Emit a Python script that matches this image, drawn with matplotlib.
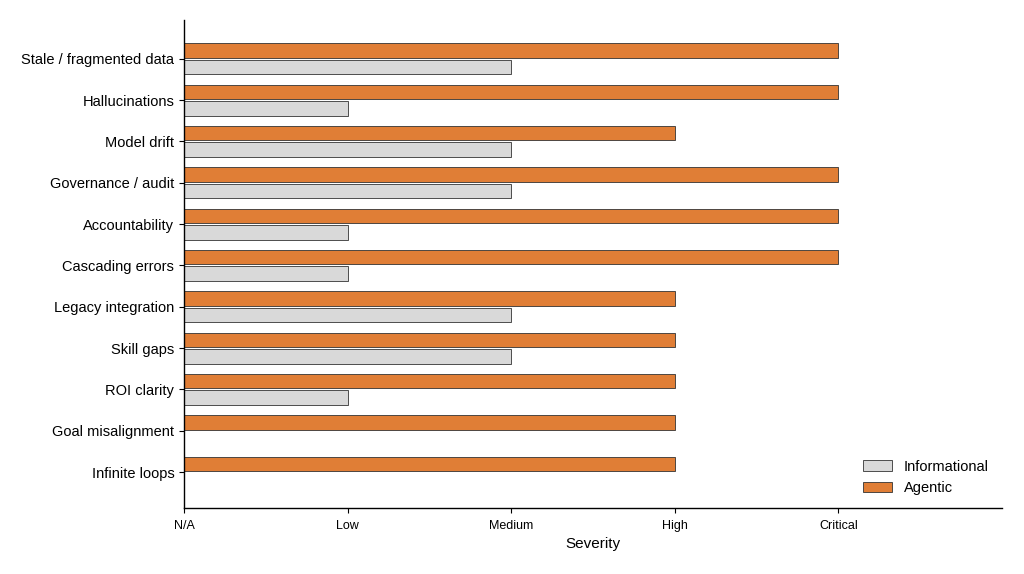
import matplotlib
matplotlib.use("Agg")
import matplotlib.pyplot as plt
import numpy as np

plt.rcParams['font.family'] = ['Liberation Sans', 'DejaVu Sans']

categories = ["Stale / fragmented data", "Hallucinations", "Model drift", "Governance / audit",
              "Accountability", "Cascading errors", "Legacy integration", "Skill gaps",
              "ROI clarity", "Goal misalignment", "Infinite loops"]
informational = [2, 1, 2, 2, 1, 1, 2, 2, 1, 0, 0]
agentic = [4, 4, 3, 4, 4, 4, 3, 3, 3, 3, 3]
tick_labels = ["N/A", "Low", "Medium", "High", "Critical"]

fig = plt.figure(figsize=(10.24, 5.74), dpi=100)
ax = fig.add_axes([0.1797, 0.115, 0.7988, 0.8502])

y = np.arange(len(categories))
h = 0.35
ax.barh(y + 0.2, informational, height=h, color="#d9d9d9", edgecolor="#333333", linewidth=0.6, label="Informational")
ax.barh(y - 0.2, agentic, height=h, color="#e07e36", edgecolor="#333333", linewidth=0.6, label="Agentic")

ax.set_yticks(y)
ax.set_yticklabels(categories, fontsize=10.5)
ax.set_ylim(10.87, -0.94)
ax.set_xlim(0, 5)
ax.set_xticks(range(len(tick_labels)))
ax.set_xticklabels(tick_labels, fontsize=9)
ax.tick_params(axis='x', pad=5)
ax.set_xlabel("Severity", fontsize=11)
for s in ['left', 'bottom']:
    ax.spines[s].set_linewidth(1.0)
ax.spines['top'].set_visible(False)
ax.spines['right'].set_visible(False)
ax.legend(loc="lower right", frameon=False, fontsize=10.5)

fig.savefig("out.png", dpi=100)
